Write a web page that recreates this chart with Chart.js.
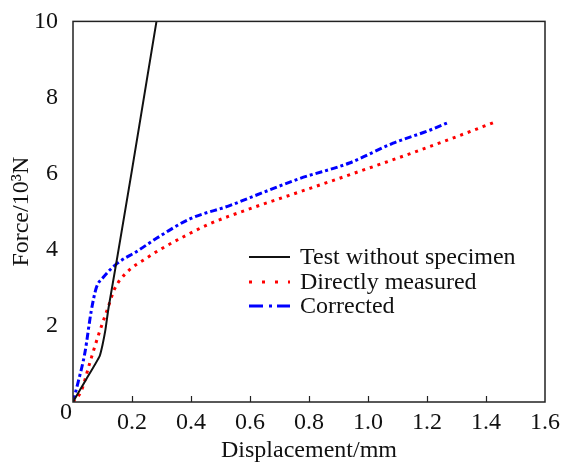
<!DOCTYPE html>
<html lang="en">
<head>
    <meta charset="UTF-8">
    <title>Force vs displacement</title>
    <style>
        html, body { margin: 0; padding: 0; background: #fff; }
        #wrap { width: 561px; height: 463px; }
    </style>
</head>
<body>
    <div id="wrap"><canvas id="myChart" width="561" height="463"></canvas></div>

    <script src="https://cdn.jsdelivr.net/npm/chart.js"></script>
    <script>
        // data (displacement in mm, force in 10^3 N)
        const testX = [0, 0.045, 0.09, 0.1, 0.11, 0.12, 0.15, 0.2, 0.25, 0.283];
        const testY = [0, 0.6, 1.2, 1.5, 1.9, 2.45, 3.8, 6.1, 8.45, 10.0];

        const measuredX = [0, 0.028, 0.057, 0.088, 0.119, 0.141, 0.18, 0.249, 0.294, 0.384, 0.463, 0.608, 0.768, 0.949, 1.141, 1.3, 1.432];
        const measuredY = [0, 0.29, 1.03, 1.8, 2.49, 2.97, 3.39, 3.78, 4.0, 4.38, 4.68, 5.1, 5.52, 6.0, 6.52, 6.97, 7.36];

        const correctedX = [0, 0.017, 0.04, 0.062, 0.079, 0.102, 0.153, 0.215, 0.283, 0.396, 0.531, 0.6, 0.768, 0.937, 1.085, 1.209, 1.277];
        const correctedY = [0, 0.51, 1.28, 2.4, 3.0, 3.27, 3.66, 3.95, 4.3, 4.81, 5.16, 5.37, 5.87, 6.28, 6.8, 7.14, 7.36];

        const seriesNames = ['Test without specimen', 'Directly measured', 'Corrected'];
        const xTicks = [0, 0.2, 0.4, 0.6, 0.8, 1.0, 1.2, 1.4, 1.6];
        const yTicks = [0, 2, 4, 6, 8, 10];

        const serif = 'Liberation Serif';

        function pts(xs, ys) {
            return xs.map((x, i) => ({ x: x, y: ys[i] }));
        }

        const data = {
            datasets: [{
                label: seriesNames[0],
                data: pts(testX, testY),
                borderColor: '#111',
                borderWidth: 2,
                cubicInterpolationMode: 'default',
                tension: 0.15,
                legendDash: []
            }, {
                label: seriesNames[1],
                data: pts(measuredX, measuredY),
                borderColor: '#f00',
                borderWidth: 3,
                borderDash: [3, 5],
                legendDash: [3, 10]
            }, {
                label: seriesNames[2],
                data: pts(correctedX, correctedY),
                borderColor: '#00f',
                borderWidth: 3,
                borderDash: [7, 3, 3, 3],
                legendDash: [14, 6, 3, 5]
            }]
        };

        // frame, inward x ticks, the shared "0" and the legend inside the plot
        const extras = {
            id: 'extras',
            afterDraw(chart) {
                const ctx = chart.ctx;
                const a = chart.chartArea;
                const xs = chart.scales.x;
                ctx.save();
                ctx.strokeStyle = '#222';
                ctx.lineWidth = 1.5;
                ctx.strokeRect(a.left, a.top, a.right - a.left, a.bottom - a.top);
                ctx.lineWidth = 1.2;
                xTicks.slice(1, -1).forEach(v => {
                    const px = Math.round(xs.getPixelForValue(v)) + 0.5;
                    ctx.beginPath();
                    ctx.moveTo(px, a.bottom);
                    ctx.lineTo(px, a.bottom - 6);
                    ctx.stroke();
                });

                ctx.fillStyle = '#111';
                ctx.font = '24px "' + serif + '"';
                ctx.textAlign = 'center';
                ctx.textBaseline = 'middle';
                ctx.fillText('0', a.left - 7, a.bottom + 11);

                // legend
                const rows = [257, 282, 306];
                ctx.textAlign = 'left';
                chart.data.datasets.forEach((ds, i) => {
                    ctx.strokeStyle = ds.borderColor;
                    ctx.lineWidth = ds.borderWidth;
                    ctx.setLineDash(ds.legendDash);
                    ctx.beginPath();
                    ctx.moveTo(249, rows[i]);
                    ctx.lineTo(290, rows[i]);
                    ctx.stroke();
                    ctx.setLineDash([]);
                    ctx.fillText(ds.label, 300, rows[i] + 1);
                });
                ctx.restore();
            }
        };

        const config = {
            type: 'line',
            data: data,
            options: {
                responsive: false,
                animation: false,
                layout: { padding: { top: 16, right: 16, left: 0, bottom: 0 } },
                elements: {
                    point: { radius: 0 },
                    line: { cubicInterpolationMode: 'monotone', borderCapStyle: 'butt' }
                },
                plugins: {
                    legend: { display: false },
                    tooltip: { enabled: false }
                },
                scales: {
                    x: {
                        type: 'linear',
                        min: 0,
                        max: 1.6,
                        afterBuildTicks: s => { s.ticks = xTicks.map(v => ({ value: v })); },
                        afterFit: s => { s.height = 61; },
                        grid: { display: false },
                        border: { display: false },
                        ticks: {
                            autoSkip: false,
                            maxRotation: 0,
                            padding: -2,
                            color: '#111',
                            font: { family: serif, size: 24 },
                            callback: v => v === 0 ? '' : v.toFixed(1)
                        },
                        title: {
                            display: true,
                            text: 'Displacement/mm',
                            color: '#111',
                            font: { family: serif, size: 24, lineHeight: 1.0 },
                            padding: { top: 0, bottom: 0 }
                        }
                    },
                    y: {
                        min: 0,
                        max: 10,
                        afterBuildTicks: s => { s.ticks = yTicks.map(v => ({ value: v })); },
                        afterFit: s => { s.width = 73; },
                        grid: { display: false },
                        border: { display: false },
                        ticks: {
                            padding: 7,
                            color: '#111',
                            font: { family: serif, size: 24 },
                            callback: v => v === 0 ? '' : v
                        },
                        title: {
                            display: true,
                            text: 'Force/10³N',
                            color: '#111',
                            font: { family: serif, size: 24 },
                            padding: { top: 7, bottom: 0 }
                        }
                    }
                }
            },
            plugins: [extras]
        };

        const ctx = document.getElementById('myChart').getContext('2d');
        new Chart(ctx, config);
    </script>
</body>
</html>
